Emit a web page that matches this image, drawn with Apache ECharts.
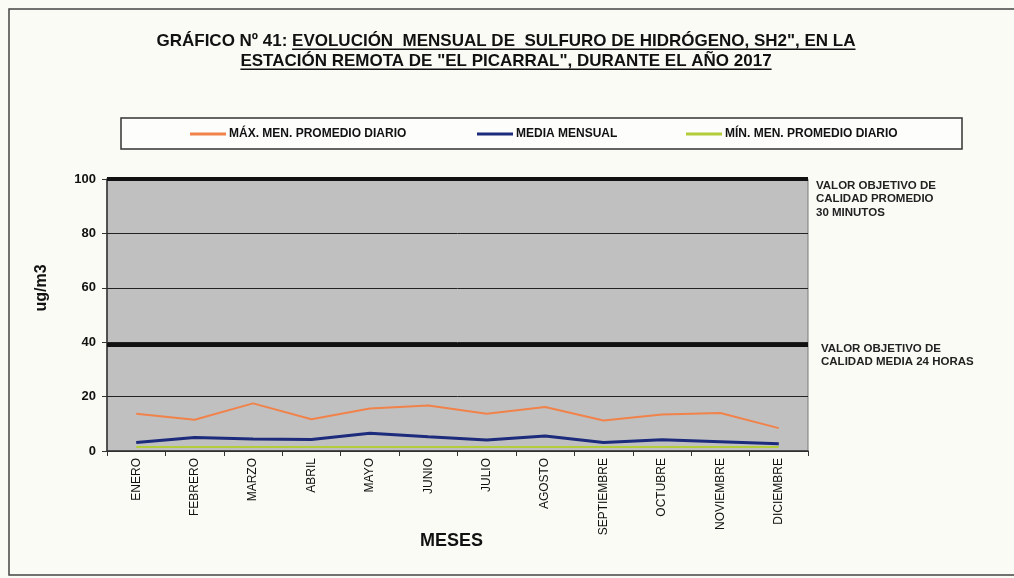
<!DOCTYPE html>
<html>
<head>
<meta charset="utf-8">
<script src="https://cdn.jsdelivr.net/npm/echarts@6/dist/echarts.min.js"></script>
<style>
html,body{margin:0;padding:0;background:#fbfbf6;}
#c{width:1014px;height:578px;}
</style>
</head>
<body>
<div id="c"></div>
<script>
const months = ['ENERO','FEBRERO','MARZO','ABRIL','MAYO','JUNIO','JULIO','AGOSTO','SEPTIEMBRE','OCTUBRE','NOVIEMBRE','DICIEMBRE'];
const maxDaily = [13.7, 11.5, 17.5, 11.7, 15.6, 16.7, 13.7, 16.2, 11.2, 13.4, 14.0, 8.4];
const monthlyMean = [3.1, 5.0, 4.4, 4.2, 6.5, 5.2, 4.0, 5.5, 3.1, 4.1, 3.4, 2.7];
const minDaily = [1.5, 1.5, 1.5, 1.5, 1.5, 1.5, 1.5, 1.5, 1.5, 1.5, 1.5, 1.5];
const yTicks = [0, 20, 40, 60, 80, 100];
const targetValues = [100, 39];
const targetLabels = ['VALOR OBJETIVO DE\nCALIDAD PROMEDIO\n30 MINUTOS', 'VALOR OBJETIVO DE\nCALIDAD MEDIA 24 HORAS'];
const seriesNames = ['MÁX. MEN. PROMEDIO DIARIO', 'MEDIA MENSUAL', 'MÍN. MEN. PROMEDIO DIARIO'];
const titlePrefix = 'GRÁFICO Nº 41: ';
const titleLine1 = 'EVOLUCIÓN  MENSUAL DE  SULFURO DE HIDRÓGENO, SH2", EN LA';
const titleLine2 = 'ESTACIÓN REMOTA DE "EL PICARRAL", DURANTE EL AÑO 2017';
const yAxisName = 'ug/m3';
const xAxisName = 'MESES';

const FONT = '"Liberation Sans", Arial, sans-serif';
const chart = echarts.init(document.getElementById('c'), null, {renderer: 'canvas'});

const mctx = document.createElement('canvas').getContext('2d');
function tw(text, font) { mctx.font = font; return mctx.measureText(text).width; }

const titleFont = 'bold 17px ' + FONT;
const cx = 506;
const w1p = tw(titlePrefix, titleFont), w1 = tw(titlePrefix + titleLine1, titleFont);
const w2 = tw(titleLine2, titleFont);
const x1 = cx - w1 / 2, x2 = cx - w2 / 2;
const y1 = 41, y2 = 61;

const legendLefts = [190, 477, 686];

const option = {
  backgroundColor: '#fbfbf6',
  animation: false,
  grid: {left: 107, right: 206, top: 179, bottom: 127, show: true, backgroundColor: '#c0c0c0', borderColor: '#7a7a7a', borderWidth: 1},
  legend: seriesNames.map((n, i) => ({
    data: [n], left: legendLefts[i], top: 128, padding: 0, icon: 'rect', itemWidth: 36, itemHeight: 3, itemGap: 0,
    textStyle: {fontFamily: FONT, fontSize: 12, fontWeight: 'bold', color: '#111', padding: [0, 0, 0, -2]},
    selectedMode: false
  })),
  xAxis: {
    type: 'category', data: months, boundaryGap: true,
    name: xAxisName, nameLocation: 'middle', nameGap: 81, nameMoveOverlap: false,
    nameTextStyle: {fontFamily: FONT, fontSize: 18, fontWeight: 'bold', color: '#111', padding: [0, 12, 0, 0]},
    axisLine: {lineStyle: {color: '#333', width: 1.5}},
    axisTick: {show: true, length: 5, interval: 0, lineStyle: {color: '#333'}},
    axisLabel: {rotate: 90, interval: 0, margin: 7, fontFamily: '"Liberation Sans Narrow", ' + FONT, fontSize: 12, color: '#111'}
  },
  yAxis: {
    type: 'value', min: yTicks[0], max: yTicks[yTicks.length - 1], interval: yTicks[1] - yTicks[0],
    name: yAxisName, nameLocation: 'middle', nameRotate: 90, nameGap: 57, nameMoveOverlap: false,
    nameTextStyle: {fontFamily: FONT, fontSize: 16, fontWeight: 'bold', color: '#111', padding: [0, 0, 0, 54]},
    axisLine: {show: true, lineStyle: {color: '#333', width: 1.5}},
    axisTick: {show: true, length: 5, lineStyle: {color: '#333'}},
    axisLabel: {margin: 11, fontFamily: FONT, fontSize: 13, fontWeight: 'bold', color: '#111'},
    splitLine: {show: true, lineStyle: {color: '#222', width: 1}}
  },
  series: [
    {name: seriesNames[0], type: 'line', data: maxDaily, symbol: 'none', color: '#f0824a', lineStyle: {width: 2, color: '#f0824a'}, z: 4,
     markLine: {silent: true, symbol: 'none', label: {show: false}, lineStyle: {color: '#111', width: 4, type: 'solid'},
       data: targetValues.map(v => ({yAxis: v}))}},
    {name: seriesNames[1], type: 'line', data: monthlyMean, symbol: 'none', color: '#1c2b7c', lineStyle: {width: 3, color: '#1c2b7c'}, z: 5},
    {name: seriesNames[2], type: 'line', data: minDaily, symbol: 'none', color: '#b3cc3a', lineStyle: {width: 2, color: '#b3cc3a'}, z: 3}
  ],
  graphic: [
    {type: 'rect', shape: {x: 9, y: 9, width: 1020, height: 566}, style: {fill: 'none', stroke: '#444', lineWidth: 1.5}, z: -10, silent: true},
    {type: 'rect', shape: {x: 121, y: 118, width: 841, height: 31}, style: {fill: '#fdfdfb', stroke: '#333', lineWidth: 1.5}, z: -5, silent: true},
    {type: 'text', style: {text: titlePrefix + titleLine1, x: x1, y: y1, font: titleFont, fill: '#111', textAlign: 'left', textVerticalAlign: 'middle'}, silent: true},
    {type: 'text', style: {text: titleLine2, x: x2, y: y2, font: titleFont, fill: '#111', textAlign: 'left', textVerticalAlign: 'middle'}, silent: true},
    {type: 'rect', shape: {x: x1 + w1p, y: y1 + 7.5, width: w1 - w1p, height: 1.4}, style: {fill: '#111'}, silent: true},
    {type: 'rect', shape: {x: x2, y: y2 + 7.5, width: w2, height: 1.4}, style: {fill: '#111'}, silent: true}
  ]
};
chart.setOption(option);

const plotRight = 1014 - 206;
const labelOffsets = [[8, 0], [13, -3]];
const extra = targetValues.map((v, i) => {
  const py = chart.convertToPixel({yAxisIndex: 0}, v);
  return {type: 'text', style: {text: targetLabels[i], x: plotRight + labelOffsets[i][0], y: py + labelOffsets[i][1],
    font: 'bold 11.5px ' + FONT, fill: '#222', textAlign: 'left', textVerticalAlign: 'top', lineHeight: 13.5}, silent: true};
});
chart.setOption({graphic: option.graphic.concat(extra)});
</script>
</body>
</html>
